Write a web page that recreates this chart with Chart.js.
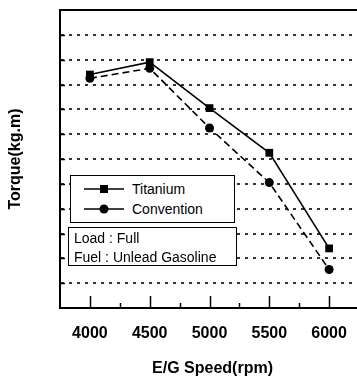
<!DOCTYPE html>
<html><head><meta charset="utf-8">
<script src="https://cdn.jsdelivr.net/npm/chart.js@4/dist/chart.umd.min.js"></script>
<style>
html,body{margin:0;padding:0;background:#fff;overflow:hidden;}
#wrap{position:relative;width:357px;height:378px;overflow:hidden;}
canvas{position:absolute;left:0;top:0;}
.box{position:absolute;background:#fff;border:1.5px solid #000;box-sizing:border-box;font-family:'Liberation Sans',Arial,sans-serif;font-size:14px;color:#000;}
.row{position:absolute;white-space:nowrap;line-height:16px;height:16px;}
.row svg{position:absolute;left:0;top:0;}
</style></head><body>
<div id="wrap"><canvas id="c" width="365" height="378"></canvas></div>
<script>
// ---- data ----
const speeds = [4000, 4500, 5000, 5500, 6000];
const titanium = [9.4, 9.9, 8.05, 6.25, 2.4];
const convention = [9.25, 9.65, 7.25, 5.05, 1.55];
const seriesNames = ['Titanium', 'Convention'];
const noteLines = ['Load : Full', 'Fuel : Unlead Gasoline'];
const xTickValues = [4000, 4500, 5000, 5500, 6000];
const xMinorTicks = [4250, 4750, 5250, 5750];
const xMin = 3750, xMax = 6300;
const yMin = 0, yMax = 12, yStep = 1;
const xTitle = 'E/G Speed(rpm)';
const yTitle = 'Torque(kg.m)';

const axesDecor = {
  id: 'axesDecor',
  afterDraw(chart) {
    const {ctx, chartArea: a, scales: {x, y}} = chart;
    ctx.save();
    ctx.strokeStyle = '#000';
    // top border
    ctx.lineWidth = 2;
    ctx.beginPath(); ctx.moveTo(a.left, a.top); ctx.lineTo(a.right, a.top); ctx.stroke();
    // inward ticks on x axis
    ctx.lineWidth = 1.5;
    xTickValues.forEach(v => {
      const px = Math.round(x.getPixelForValue(v)) + 0.5;
      ctx.beginPath(); ctx.moveTo(px, a.bottom); ctx.lineTo(px, a.bottom - 12); ctx.stroke();
    });
    xMinorTicks.forEach(v => {
      const px = Math.round(x.getPixelForValue(v)) + 0.5;
      ctx.beginPath(); ctx.moveTo(px, a.bottom); ctx.lineTo(px, a.bottom - 5); ctx.stroke();
    });
    // inward ticks on y axis
    for (let v = yMin + yStep; v < yMax; v += yStep) {
      const py = Math.round(y.getPixelForValue(v)) + 0.5;
      ctx.beginPath(); ctx.moveTo(a.left, py); ctx.lineTo(a.left + 5, py); ctx.stroke();
    }
    ctx.restore();
  }
};

const bold16 = {family: "'Liberation Sans', Arial, sans-serif", size: 16, weight: 'bold'};

new Chart(document.getElementById('c'), {
  type: 'line',
  data: {
    datasets: [
      {
        label: seriesNames[0],
        data: speeds.map((s, i) => ({x: s, y: titanium[i]})),
        borderColor: '#000', borderWidth: 1.6, tension: 0,
        pointStyle: 'rect', pointRadius: 5.5, pointBackgroundColor: '#000', pointBorderColor: '#000', pointBorderWidth: 0
      },
      {
        label: seriesNames[1],
        data: speeds.map((s, i) => ({x: s, y: convention[i]})),
        borderColor: '#000', borderWidth: 1.6, borderDash: [7, 4], tension: 0,
        pointStyle: 'circle', pointRadius: 4.5, pointBackgroundColor: '#000', pointBorderColor: '#000', pointBorderWidth: 0
      }
    ]
  },
  options: {
    responsive: false,
    animation: false,
    devicePixelRatio: 1,
    layout: {autoPadding: false, padding: {top: 10, right: 0, left: 0, bottom: 0}},
    plugins: {legend: {display: false}, tooltip: {enabled: false}},
    scales: {
      x: {
        type: 'linear', min: xMin, max: xMax,
        afterBuildTicks: s => { s.ticks = xTickValues.map(v => ({value: v})); },
        afterFit: s => { s.height = 70; s.paddingLeft = 0; s.paddingRight = 0; },
        ticks: {font: bold16, color: '#000', padding: 16, maxRotation: 0, autoSkip: false, callback: v => String(v)},
        grid: {display: false, drawTicks: false},
        border: {display: true, color: '#000', width: 2},
        title: {display: true, text: xTitle, font: bold16, color: '#000', padding: {top: 0, bottom: 0}}
      },
      y: {
        min: yMin, max: yMax,
        afterFit: s => { s.width = 60; },
        ticks: {display: false, stepSize: yStep},
        grid: {
          drawTicks: false, lineWidth: 2,
          color: c => (c.tick && (c.tick.value === yMin || c.tick.value === yMax)) ? 'rgba(0,0,0,0)' : '#333'
        },
        border: {display: true, color: '#000', width: 2, dash: [3, 5]},
        title: {display: true, text: yTitle, font: bold16, color: '#000', padding: {top: 6, bottom: 0}}
      }
    }
  },
  plugins: [axesDecor]
});

// ---- legend boxes (HTML overlays) ----
const wrap = document.getElementById('wrap');
function svgSample(i) {
  const marker = i === 0
    ? '<rect x="16" y="4" width="8" height="8" fill="#000"/>'
    : '<circle cx="20" cy="8" r="4.5" fill="#000"/>';
  return '<svg width="42" height="16"><line x1="0" y1="8" x2="40" y2="8" stroke="#000" stroke-width="1.6"/>' + marker + '</svg>';
}
const box1 = document.createElement('div');
box1.className = 'box';
box1.style.cssText = 'left:70px;top:175px;width:165px;height:48px;';
seriesNames.forEach((n, i) => {
  const r = document.createElement('div');
  r.className = 'row';
  r.style.cssText = 'left:13px;top:' + (5 + i * 20) + 'px;';
  r.innerHTML = svgSample(i) + '<span style="position:absolute;left:48px;top:0;">' + n + '</span>';
  box1.appendChild(r);
});
wrap.appendChild(box1);

const box2 = document.createElement('div');
box2.className = 'box';
box2.style.cssText = 'left:68px;top:227px;width:169px;height:39px;';
noteLines.forEach((t, i) => {
  const r = document.createElement('div');
  r.className = 'row';
  r.style.cssText = 'left:5px;top:' + (2 + i * 19) + 'px;';
  r.textContent = t;
  box2.appendChild(r);
});
wrap.appendChild(box2);
</script>
</body></html>
